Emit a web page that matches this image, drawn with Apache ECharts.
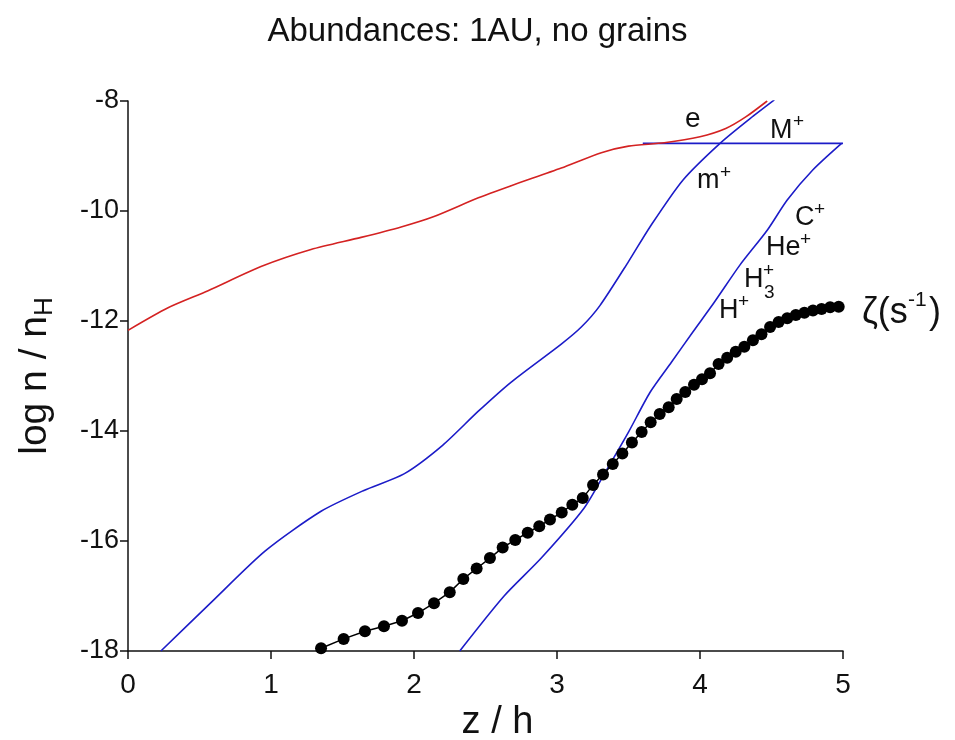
<!DOCTYPE html>
<html><head><meta charset="utf-8">
<script src="https://cdn.jsdelivr.net/npm/echarts@6/dist/echarts.min.js"></script>
<style>html,body{margin:0;padding:0;background:#fff}#c{width:955px;height:740px}</style>
</head><body><div id="c"></div>
<script>
// ---- data ----
const xTicks = [0, 1, 2, 3, 4, 5];
const yTicks = [-18, -16, -14, -12, -10, -8];

// electrons (red)
const eX = [0, 0.28, 0.56, 0.93, 1.28, 1.63, 1.91, 2.14, 2.45, 2.68, 3.03, 3.31, 3.50, 3.75, 4.00, 4.18, 4.32, 4.47];
const eY = [-12.17, -11.76, -11.45, -11.01, -10.70, -10.48, -10.29, -10.10, -9.76, -9.54, -9.22, -8.94, -8.82, -8.76, -8.65, -8.50, -8.29, -8.00];

// M+ (blue, flat)
const MX = [3.60, 4.00, 4.50, 5.00];
const MY = [-8.77, -8.77, -8.77, -8.77];

// m+ (blue)
const mX = [0.23, 0.58, 0.96, 1.35, 1.65, 1.93, 2.20, 2.45, 2.68, 3.03, 3.17, 3.30, 3.50, 3.65, 3.88, 4.14, 4.35, 4.52];
const mY = [-18.0, -17.12, -16.18, -15.46, -15.08, -14.78, -14.26, -13.64, -13.11, -12.42, -12.11, -11.72, -10.92, -10.29, -9.44, -8.77, -8.32, -7.98];

// H+, H3+, He+, C+ (blue)
const hX = [2.32, 2.63, 2.89, 3.19, 3.34, 3.50, 3.65, 3.80, 3.95, 4.10, 4.28, 4.47, 4.61, 4.79, 4.99];
const hY = [-18.0, -17.0, -16.31, -15.40, -14.74, -14.02, -13.30, -12.75, -12.20, -11.66, -10.98, -10.35, -9.80, -9.25, -8.77];

// zeta (s^-1), black dots
const zX = [1.350, 1.508, 1.657, 1.790, 1.916, 2.028, 2.140, 2.250, 2.345, 2.438, 2.531, 2.620, 2.708, 2.795, 2.876, 2.951,
            3.033, 3.107, 3.180, 3.252, 3.322, 3.390, 3.457, 3.524, 3.592, 3.655, 3.718, 3.781, 3.837, 3.897, 3.958, 4.014,
            4.070, 4.13, 4.19, 4.25, 4.31, 4.37, 4.43, 4.49, 4.55, 4.61, 4.67, 4.73, 4.79, 4.85, 4.91, 4.97];
const zY = [-17.95, -17.78, -17.64, -17.55, -17.45, -17.31, -17.13, -16.93, -16.69, -16.50, -16.31, -16.12, -15.98, -15.85, -15.73, -15.61,
            -15.48, -15.34, -15.22, -14.98, -14.79, -14.60, -14.41, -14.21, -14.02, -13.84, -13.69, -13.57, -13.42, -13.29, -13.16, -13.06,
            -12.95, -12.78, -12.67, -12.56, -12.47, -12.35, -12.24, -12.11, -12.02, -11.95, -11.89, -11.85, -11.81, -11.78, -11.75, -11.74];

const zip = (xs, ys) => xs.map((x, i) => [x, ys[i]]);
const FONT = "'Liberation Sans', Arial, Helvetica, sans-serif";
const RED = '#d42222';
const BLUE = '#1c1cc8';

const chart = echarts.init(document.getElementById('c'), null, {renderer: 'canvas'});

function txt(t, x, y, size) {
  return {
    type: 'text', x: x, y: y, z: 100,
    style: {text: t, fill: '#111', font: size + 'px ' + FONT, textAlign: 'left', textVerticalAlign: 'middle'}
  };
}

const option = {
  animation: false,
  backgroundColor: '#fff',
  title: {
    text: 'Abundances: 1AU, no grains',
    left: 'center', top: 10,
    textStyle: {fontFamily: FONT, fontSize: 33, fontWeight: 'normal', color: '#111'}
  },
  grid: {left: 128, right: 112, top: 101, bottom: 89, containLabel: false, outerBoundsMode: 'none'},
  xAxis: {
    type: 'value', min: xTicks[0], max: xTicks[xTicks.length - 1], interval: 1,
    name: 'z / h', nameLocation: 'middle', nameGap: 47,
    nameTextStyle: {fontFamily: FONT, fontSize: 38, color: '#111', padding: [0, 0, 0, 24]},
    axisLine: {lineStyle: {color: '#111', width: 1.5}},
    axisTick: {inside: false, length: 8, lineStyle: {color: '#111', width: 1.5}},
    axisLabel: {fontFamily: FONT, fontSize: 28, color: '#111', margin: 20},
    splitLine: {show: false}
  },
  yAxis: {
    type: 'value', min: yTicks[0], max: yTicks[yTicks.length - 1], interval: 2,
    name: '{a|log n / n}{s|H}', nameLocation: 'middle', nameGap: 70, nameRotate: 90,
    nameTextStyle: {
      fontFamily: FONT, color: '#111',
      rich: {
        a: {fontFamily: FONT, fontSize: 39, lineHeight: 46, color: '#111'},
        s: {fontFamily: FONT, fontSize: 26, lineHeight: 26, verticalAlign: 'bottom', color: '#111'}
      }
    },
    axisLine: {lineStyle: {color: '#111', width: 1.5}},
    axisTick: {inside: false, length: 8, lineStyle: {color: '#111', width: 1.5}},
    axisLabel: {fontFamily: FONT, fontSize: 27, color: '#111', margin: 9},
    splitLine: {show: false}
  },
  series: [
    {name: 'M+', type: 'line', data: zip(MX, MY), symbol: 'none',
     lineStyle: {color: BLUE, width: 1.6}, z: 2},
    {name: 'm+', type: 'line', data: zip(mX, mY), smooth: 0.25, symbol: 'none',
     lineStyle: {color: BLUE, width: 1.6}, z: 2},
    {name: 'H+', type: 'line', data: zip(hX, hY), smooth: 0.25, symbol: 'none',
     lineStyle: {color: BLUE, width: 1.6}, z: 2},
    {name: 'e', type: 'line', data: zip(eX, eY), smooth: 0.25, symbol: 'none',
     lineStyle: {color: RED, width: 1.6}, z: 3},
    {name: 'zeta', type: 'line', data: zip(zX, zY), symbol: 'circle', symbolSize: 12,
     itemStyle: {color: '#000'}, lineStyle: {color: '#000', width: 1.5}, z: 4}
  ],
  graphic: [
    txt('e', 685, 119, 28),
    txt('M', 770, 131, 27), txt('+', 793, 122, 19),
    txt('m', 697, 181, 27), txt('+', 720, 173, 19),
    txt('C', 795, 218, 27), txt('+', 814, 210, 19),
    txt('He', 766, 248, 27), txt('+', 800, 240, 19),
    txt('H', 744, 280, 27), txt('+', 763, 271, 19), txt('3', 764, 293, 19),
    txt('H', 719, 311, 27), txt('+', 738, 302, 19),
    txt('ζ(s', 862, 313, 36), txt('-1', 908, 300, 21), txt(')', 929, 313, 36)
  ]
};
chart.setOption(option);
</script>
</body></html>
